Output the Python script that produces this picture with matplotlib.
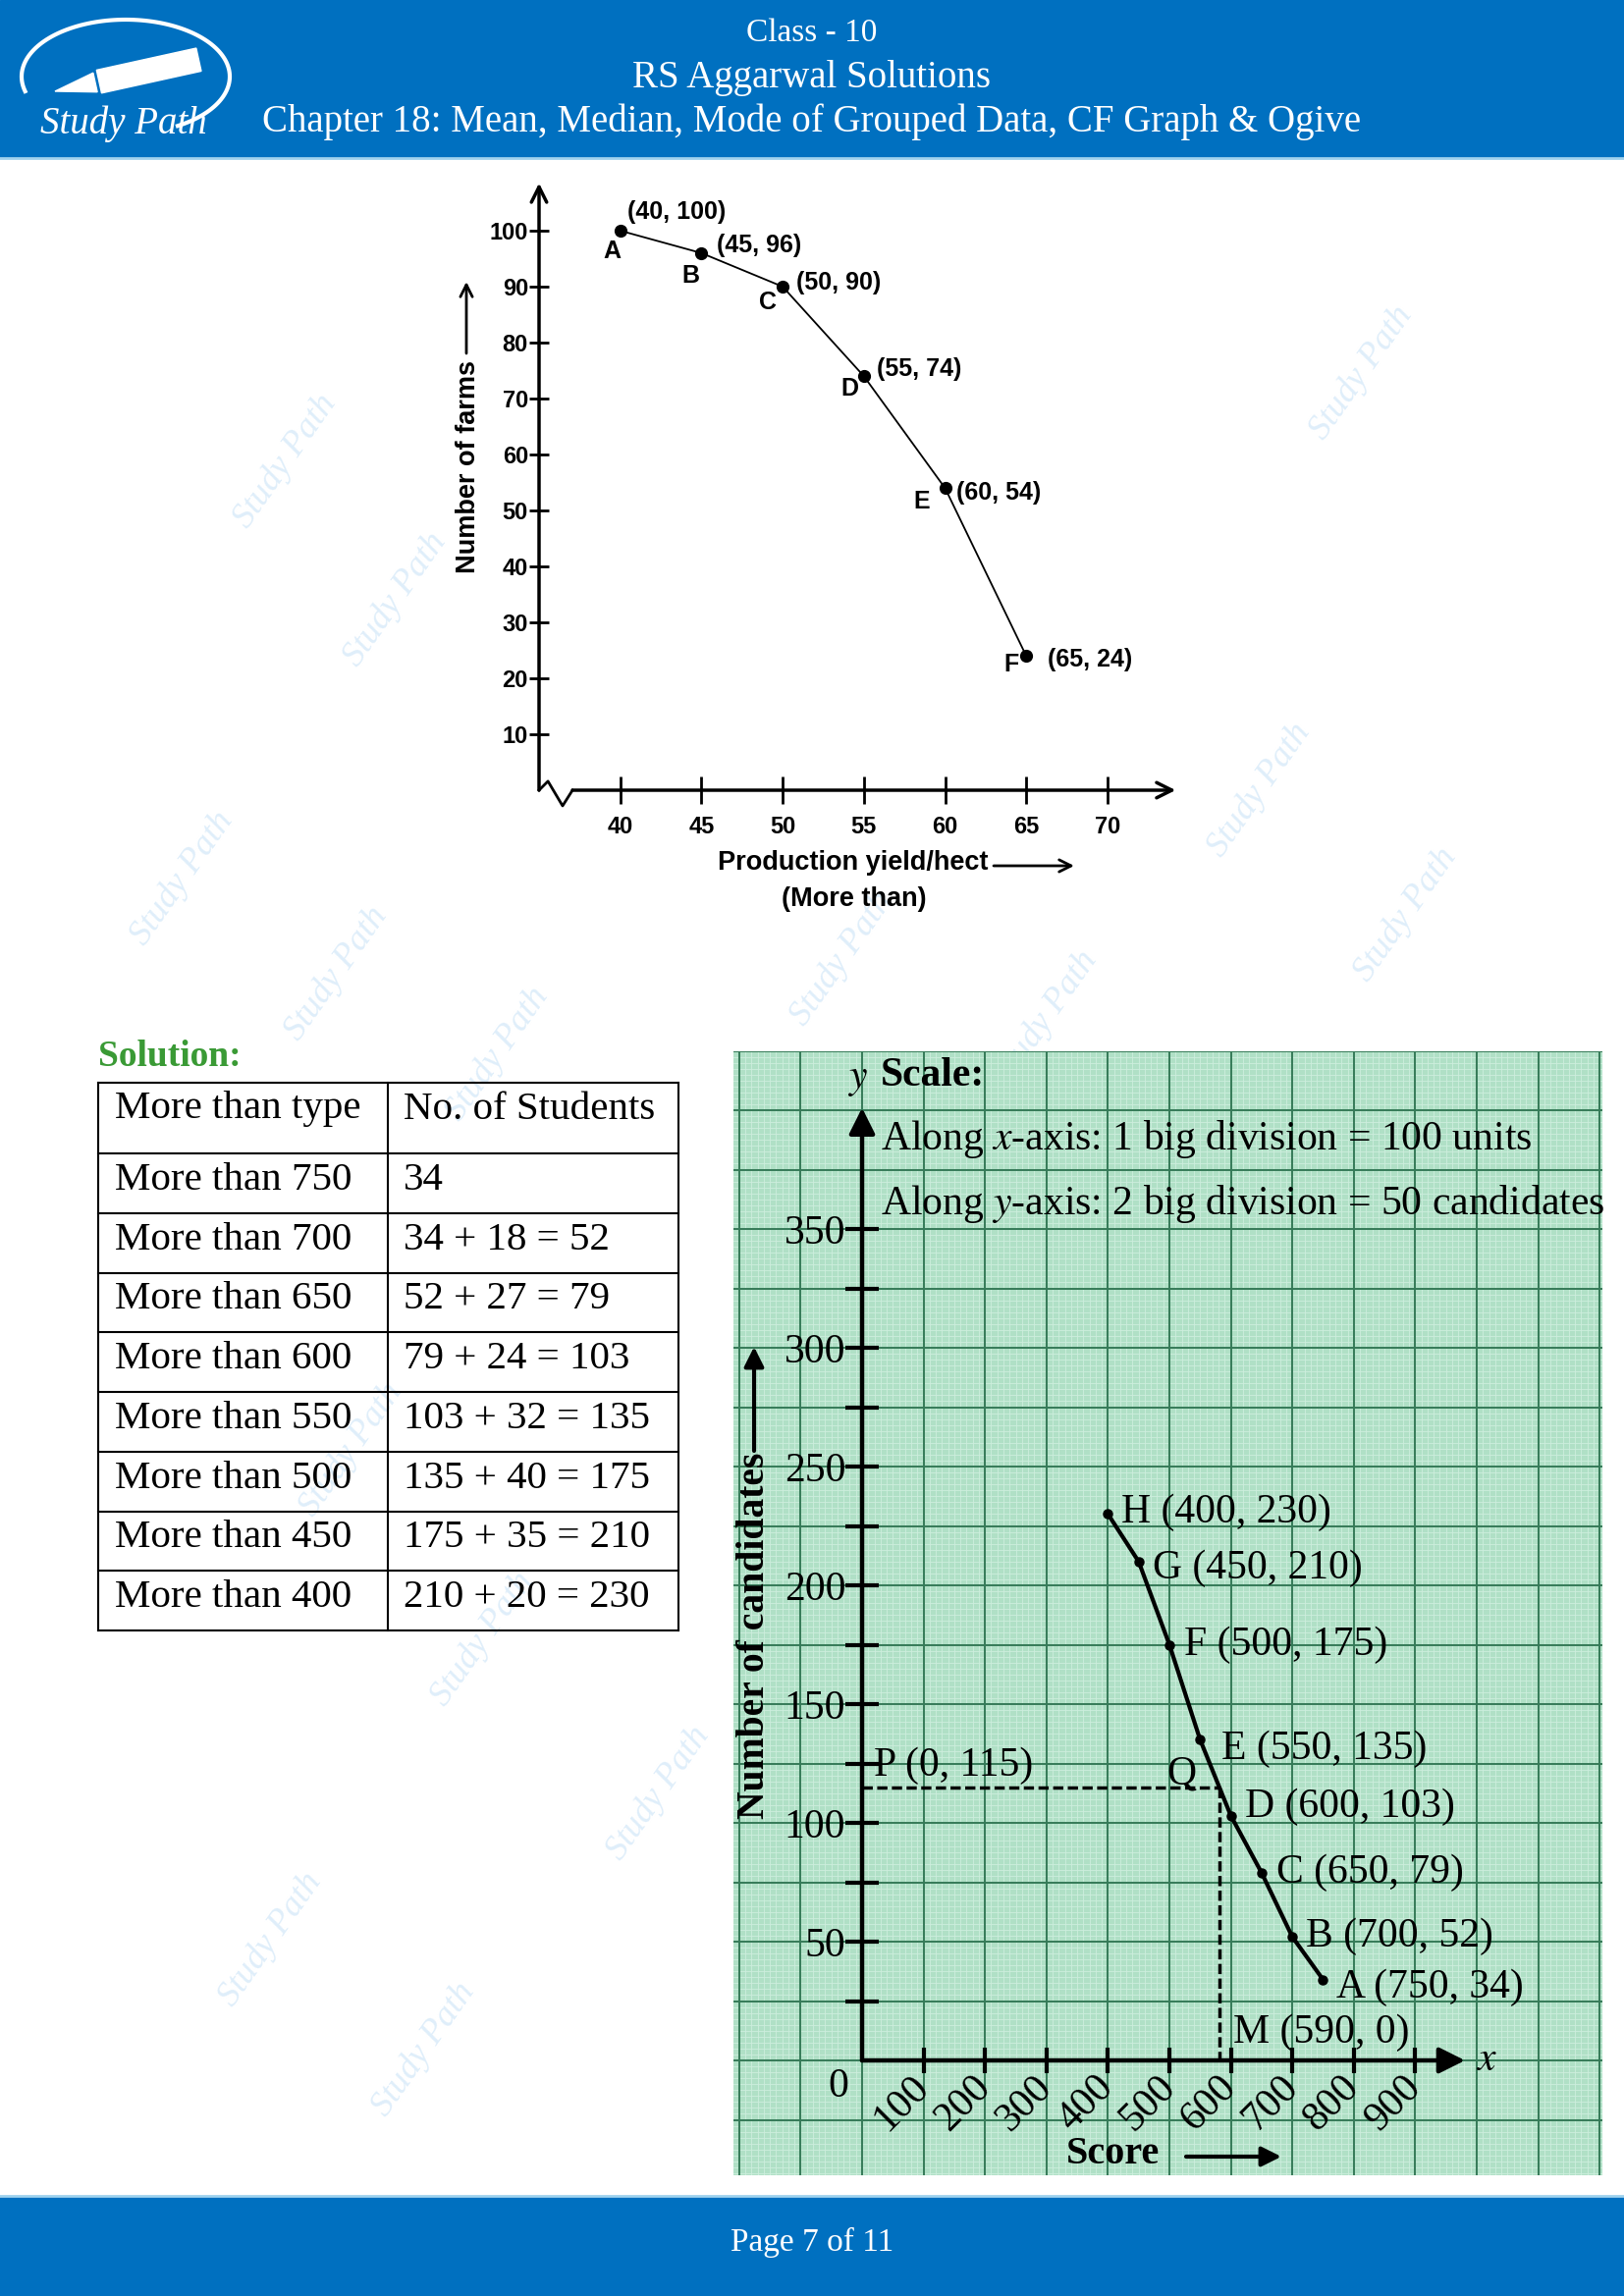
import numpy as np
import matplotlib
matplotlib.use('Agg')
import matplotlib.pyplot as plt
from matplotlib.patches import Rectangle, Polygon

plt.rcParams['mathtext.fontset'] = 'stix'

W, H = 1654, 2339

# top ogive: production yield (more than)
yield_x = [40, 45, 50, 55, 60, 65]
farms_y = [100, 96, 90, 74, 54, 24]
farm_names = ['A', 'B', 'C', 'D', 'E', 'F']
yield_ticks = [40, 45, 50, 55, 60, 65, 70]
farm_ticks = [10, 20, 30, 40, 50, 60, 70, 80, 90, 100]

# solution table
more_than = ['More than 750', 'More than 700', 'More than 650', 'More than 600',
             'More than 550', 'More than 500', 'More than 450', 'More than 400']
students = ['34', '34 + 18 = 52', '52 + 27 = 79', '79 + 24 = 103',
            '103 + 32 = 135', '135 + 40 = 175', '175 + 35 = 210', '210 + 20 = 230']

# green ogive: score vs number of candidates
score_x = [750, 700, 650, 600, 550, 500, 450, 400]
cand_y = [34, 52, 79, 103, 135, 175, 210, 230]
cand_names = ['A', 'B', 'C', 'D', 'E', 'F', 'G', 'H']
score_ticks = [100, 200, 300, 400, 500, 600, 700, 800, 900]
cand_ticks = list(range(25, 351, 25))
half_n = 115
median_score = 590


def fig_rect(l, t, r, b):
    return [l / W, 1 - b / H, (r - l) / W, (b - t) / H]


fig = plt.figure(figsize=(W / 100, H / 100), dpi=100)

# ---------------- page (header, footer, table, watermarks) ----------------
page = fig.add_axes([0, 0, 1, 1])
page.set_xlim(0, W)
page.set_ylim(H, 0)
page.axis('off')

blue = '#0070c0'
page.add_patch(Rectangle((0, 0), W, 160, color=blue, zorder=1))
page.plot([0, W], [161, 161], color='#9fd2ee', lw=2, zorder=1)
page.add_patch(Rectangle((0, 2238), W, H - 2238, color=blue, zorder=1))
page.plot([0, W], [2237, 2237], color='#9fd2ee', lw=2, zorder=1)

serif = 'Liberation Serif'
page.text(827, 34, 'Class - 10', color='white', fontsize=24, family=serif,
          ha='center', va='center', zorder=3)
page.text(827, 79, 'RS Aggarwal Solutions', color='white', fontsize=28, family=serif,
          ha='center', va='center', zorder=3)
page.text(827, 124, 'Chapter 18: Mean, Median, Mode of Grouped Data, CF Graph & Ogive',
          color='white', fontsize=28, family=serif, ha='center', va='center', zorder=3)
page.text(827, 2284, 'Page 7 of 11', color='white', fontsize=24, family=serif,
          ha='center', va='center', zorder=3)

# logo
t = np.radians(np.linspace(195, -60, 120))
page.plot(128 + 106 * np.cos(t), 78 - 58 * np.sin(t), color='white', lw=3, zorder=3)
tip = np.array([56.0, 93.0])
u = np.array([0.976, -0.215])
n = np.array([0.215, 0.976])
nib = [tip, tip + 42 * u + 10 * n, tip + 42 * u - 10 * n]
body = [tip + 46 * u + 12 * n, tip + 150 * u + 12 * n, tip + 150 * u - 12 * n,
        tip + 46 * u - 12 * n]
page.add_patch(Polygon(nib, closed=True, color='white', zorder=3))
page.add_patch(Polygon(body, closed=True, color='white', zorder=3))
page.text(126, 126, 'Study Path', color='white', fontsize=28, family=serif,
          style='italic', ha='center', va='center', zorder=3)

# watermarks
wm = [(291, 470), (403, 611), (1387, 380), (186, 895), (1283, 805), (343, 992),
      (1432, 932), (858, 977), (1066, 1037), (507, 1074), (492, 1670), (671, 1827),
      (276, 1976), (432, 2088), (358, 1477)]
for wx, wy in wm:
    page.text(wx, wy, 'Study Path', color='#dfeefa', fontsize=26, family=serif,
              style='italic', rotation=55, ha='center', va='center', zorder=2)

# solution + table
page.text(100, 1076, 'Solution:', color='#3a9a35', fontsize=27, family=serif,
          weight='bold', ha='left', va='center', zorder=3)
tab_left, tab_mid, tab_right = 100, 395, 691
tab_top, head_h, row_h = 1103, 72, 60.75
ys = [tab_top] + [tab_top + head_h + i * row_h for i in range(len(more_than) + 1)]
for yy in ys:
    page.plot([tab_left, tab_right], [yy, yy], color='black', lw=1.5, zorder=3)
for xx in (tab_left, tab_mid, tab_right):
    page.plot([xx, xx], [ys[0], ys[-1]], color='black', lw=1.5, zorder=3)
page.text(117, 1130, 'More than type', fontsize=29.5, family=serif, va='center', zorder=3)
page.text(411, 1130, 'No. of Students', fontsize=29.5, family=serif, va='center', zorder=3)
for i, (a, b) in enumerate(zip(more_than, students)):
    yc = (ys[i + 1] + ys[i + 2]) / 2 - 3
    page.text(117, yc, a, fontsize=29.5, family=serif, va='center', zorder=3)
    page.text(411, yc, b, fontsize=29.5, family=serif, va='center', zorder=3)

# ---------------- top chart ----------------
sans = 'Liberation Sans'
x1 = lambda px: 35 + (px - 549) / 16.54
y1 = lambda py: (805 - py) / 5.70
ax1 = fig.add_axes(fig_rect(540, 175, 1215, 815))
ax1.set_facecolor('none')
ax1.set_xlim(x1(540), x1(1215))
ax1.set_ylim(y1(815), y1(175))
for s in ax1.spines.values():
    s.set_visible(False)
ax1.spines['left'].set_position(('data', 35))
ax1.spines['bottom'].set_position(('data', 0))
ax1.set_xticks(yield_ticks)
ax1.set_yticks(farm_ticks)
ax1.tick_params(axis='x', direction='inout', length=20, width=2, pad=9)
ax1.tick_params(axis='y', direction='inout', length=14, width=2, pad=1)
for lab in ax1.get_xticklabels() + ax1.get_yticklabels():
    lab.set_fontfamily(sans)
    lab.set_fontweight('bold')
    lab.set_fontsize(17)

arrow_open = dict(arrowstyle='->', lw=2.5, color='black', shrinkA=0, shrinkB=0,
                  mutation_scale=28)
ax1.annotate('', xy=(35, 108.5), xytext=(35, 0), arrowprops=arrow_open,
             annotation_clip=False)
ax1.annotate('', xy=(74.2, 0), xytext=(37.06, 0), arrowprops=arrow_open,
             annotation_clip=False)
# axis break
ax1.plot([35, 35.55, 36.45, 37.06], [0, 1.6, -2.8, 0], color='black', lw=2,
         clip_on=False)

ax1.plot(yield_x, farms_y, color='black', lw=1.3, marker='o', ms=8.5,
         clip_on=False, zorder=5)
coord_off = [(7, -19), (16, -8), (14, -4), (13, -7), (12, 5), (22, 4)]
name_off = [(-8, 21), (-11, 23), (-15, 16), (-14, 13), (-24, 14), (-15, 9)]
for xv, yv, nm, co, no in zip(yield_x, farms_y, farm_names, coord_off, name_off):
    ax1.annotate(f'({xv}, {yv})', xy=(xv, yv), xytext=(co[0], -co[1]),
                 textcoords='offset pixels', ha='left', va='center',
                 fontsize=18, fontweight='bold', family=sans)
    ax1.annotate(nm, xy=(xv, yv), xytext=(no[0], -no[1]),
                 textcoords='offset pixels', ha='center', va='center',
                 fontsize=18, fontweight='bold', family=sans)

ax1.text(x1(477), y1(475), 'Number of farms', rotation=90, ha='center', va='center',
         fontsize=19.5, fontweight='bold', family=sans, clip_on=False)
ax1.annotate('', xy=(x1(475), y1(287)), xytext=(x1(475), y1(360)),
             arrowprops=dict(arrowstyle='->', lw=2, color='black', shrinkA=0, shrinkB=0,
                             mutation_scale=22), annotation_clip=False)
ax1.text(x1(869), y1(879), 'Production yield/hect', ha='center', va='center',
         fontsize=19.5, fontweight='bold', family=sans, clip_on=False)
ax1.annotate('', xy=(x1(1094), y1(882)), xytext=(x1(1012), y1(882)),
             arrowprops=dict(arrowstyle='->', lw=2, color='black', shrinkA=0, shrinkB=0,
                             mutation_scale=22), annotation_clip=False)
ax1.text(x1(870), y1(916), '(More than)', ha='center', va='center',
         fontsize=19.5, fontweight='bold', family=sans, clip_on=False)

# ---------------- green graph-paper chart ----------------
x2 = lambda px: (px - 878) / 0.626
y2 = lambda py: (2099 - py) / 2.42
ax2 = fig.add_axes(fig_rect(747, 1071, 1632, 2216))
ax2.set_facecolor('#b0e0c6')
ax2.set_xlim(x2(747), x2(1632))
ax2.set_ylim(y2(2216), y2(1071))

for gx in np.arange(-200, 1210, 10):
    ax2.axvline(gx, color='#cdeedd', lw=0.6, zorder=0)
for gy in np.arange(-47.5, 430, 2.5):
    ax2.axhline(gy, color='#cdeedd', lw=0.6, zorder=0)
for gx in np.arange(-200, 1210, 100):
    ax2.axvline(gx, color='#357a58', lw=1.4, zorder=1)
for gy in np.arange(-25, 430, 25):
    ax2.axhline(gy, color='#357a58', lw=1.4, zorder=1)

for s in ax2.spines.values():
    s.set_visible(False)
ax2.spines['left'].set_position(('data', 0))
ax2.spines['bottom'].set_position(('data', 0))
ax2.set_xticks(score_ticks)
ax2.set_xticklabels([str(v) for v in score_ticks], rotation=45, ha='right',
                    va='center', rotation_mode='anchor')
ax2.set_yticks(cand_ticks)
ax2.set_yticklabels([str(v) if v % 50 == 0 else '' for v in cand_ticks])
ax2.tick_params(axis='x', direction='inout', length=19, width=3, pad=6)
ax2.tick_params(axis='y', direction='inout', length=24, width=3, pad=0)
for lab in ax2.get_xticklabels() + ax2.get_yticklabels():
    lab.set_fontfamily(serif)
    lab.set_fontsize(30)

arrow_fill = dict(arrowstyle='-|>', lw=3.2, color='black', shrinkA=0, shrinkB=0,
                  mutation_scale=40)
ax2.annotate('', xy=(0, 401), xytext=(0, 0), arrowprops=arrow_fill)
ax2.annotate('', xy=(981, 0), xytext=(0, 0), arrowprops=arrow_fill)
ax2.annotate('0', xy=(0, 0), xytext=(-24, -27), textcoords='offset pixels',
             ha='center', va='center', fontsize=30, family=serif)
ax2.text(x2(1514), y2(2097), '$x$', ha='center', va='center', fontsize=30)
ax2.text(x2(873), y2(1098), '$y$', ha='center', va='center', fontsize=30)
ax2.text(x2(897), y2(1096), 'Scale:', ha='left', va='center', fontsize=30,
         fontweight='bold', family=serif)
ax2.text(x2(897), y2(1160), 'Along $x$-axis: 1 big division = 100 units',
         ha='left', va='center', fontsize=30, family=serif)
ax2.text(x2(897), y2(1226), 'Along $y$-axis: 2 big division = 50 candidates',
         ha='left', va='center', fontsize=30, family=serif)

ax2.plot(score_x, cand_y, color='black', lw=3, marker='o', ms=6.5, zorder=5)
lab_off = [(14, 8), (14, 0), (15, 0), (14, -9), (22, 9), (15, 0), (14, 7), (14, -2)]
for xv, yv, nm, lo in zip(score_x, cand_y, cand_names, lab_off):
    ax2.annotate(f'{nm} ({xv}, {yv})', xy=(xv, yv), xytext=(lo[0], -lo[1]),
                 textcoords='offset pixels', ha='left', va='center',
                 fontsize=30, family=serif, zorder=6)

# median construction
order = np.argsort(cand_y)
cross_x = np.interp(half_n, np.array(cand_y)[order], np.array(score_x)[order])
ax2.plot([0, cross_x], [half_n, half_n], color='black', lw=2.5,
         linestyle=(0, (3, 1.3)), zorder=4)
ax2.plot([cross_x, cross_x], [half_n, 0], color='black', lw=2.5,
         linestyle=(0, (3, 1.3)), zorder=4)
ax2.annotate(f'P (0, {half_n})', xy=(0, half_n), xytext=(12, 22),
             textcoords='offset pixels', ha='left', va='center', fontsize=30,
             family=serif)
ax2.annotate('Q', xy=(cross_x, half_n), xytext=(-39, 13), textcoords='offset pixels',
             ha='center', va='center', fontsize=30, family=serif)
ax2.annotate(f'M ({median_score}, 0)', xy=(cross_x, 0), xytext=(14, 28),
             textcoords='offset pixels', ha='left', va='center', fontsize=30,
             family=serif)

ax2.text(x2(768), y2(1666), 'Number of candidates', rotation=90, ha='center',
         va='center', fontsize=28.5, fontweight='bold', family=serif)
ax2.annotate('', xy=(x2(768), y2(1372)), xytext=(x2(768), y2(1478)),
             arrowprops=dict(arrowstyle='-|>', lw=3, color='black', shrinkA=0,
                             shrinkB=0, mutation_scale=30))
ax2.text(x2(1134), y2(2195), 'Score', ha='center', va='center', fontsize=29,
         fontweight='bold', family=serif)
ax2.annotate('', xy=(x2(1305), y2(2197)), xytext=(x2(1208), y2(2197)),
             arrowprops=dict(arrowstyle='-|>', lw=3, color='black', shrinkA=0,
                             shrinkB=0, mutation_scale=30))

fig.savefig('out.png', dpi=100)
